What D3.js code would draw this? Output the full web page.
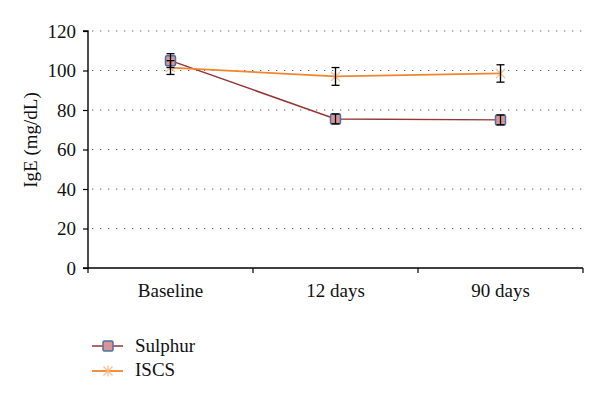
<!DOCTYPE html>
<html><head><meta charset="utf-8">
<script src="https://cdn.jsdelivr.net/npm/d3@7"></script>
<style>body{margin:0;background:#fff}svg{display:block}</style>
</head><body><svg id="c" width="600" height="404"></svg>
<script>
const categories = ["Baseline", "12 days", "90 days"];
const sulphurValues = [105, 75.5, 75];
const sulphurErrors = [3.5, 2.5, 2.5];
const iscsValues = [101.5, 97, 98.5];
const iscsErrors = [3.5, 4.5, 4.4];
const yTicks = [0, 20, 40, 60, 80, 100, 120];

const svg = d3.select("#c");
const L = 88, R = 583, T = 31, B = 268;
const x = d3.scaleBand().domain(categories).range([L, R]);
const y = d3.scaleLinear().domain([0, 120]).range([B, T]);
const font = "'Liberation Serif', 'DejaVu Serif', serif";
const FS = 19;

// grid
svg.append("g").selectAll("line").data(yTicks.filter(d => d > 0)).join("line")
  .attr("x1", L + 4).attr("x2", R).attr("y1", d => y(d)).attr("y2", d => y(d))
  .attr("stroke", "#666").attr("stroke-width", 1.2).attr("stroke-dasharray", "1.3,6.7");

// y axis
const ya = svg.append("g").attr("transform", `translate(${L},0)`)
  .call(d3.axisLeft(y).tickValues(yTicks).tickSize(5).tickPadding(7));
ya.select(".domain").attr("stroke", "#000").attr("stroke-width", 1.4).attr("d", `M-5,${B}H0V${T}H-5`);
ya.selectAll("line").attr("stroke", "#000").attr("stroke-width", 1.2);
ya.selectAll("text").attr("font-family", font).attr("font-size", FS).attr("fill", "#111");

// x axis
const xa = svg.append("g").attr("transform", `translate(0,${B})`);
xa.append("line").attr("x1", L).attr("x2", R).attr("stroke", "#000").attr("stroke-width", 1.4);
const bounds = [L].concat(categories.map(c => x(c) + x.bandwidth()));
xa.selectAll(".tk").data(bounds).join("line").attr("class", "tk")
  .attr("x1", d => d).attr("x2", d => d).attr("y1", 0).attr("y2", 5).attr("stroke", "#000").attr("stroke-width", 1.2);
xa.selectAll("text").data(categories).join("text")
  .attr("x", d => x(d) + x.bandwidth() / 2).attr("y", 29)
  .attr("text-anchor", "middle").attr("font-family", font).attr("font-size", FS).attr("fill", "#111").text(d => d);

// y label
svg.append("text").attr("transform", `translate(37,140) rotate(-90)`)
  .attr("text-anchor", "middle").attr("font-family", font).attr("font-size", FS).attr("fill", "#111").text("IgE (mg/dL)");

const cx = d => x(d) + x.bandwidth() / 2;
const line = d3.line().x(d => cx(d.c)).y(d => y(d.v));

function series(vals) { return categories.map((c, i) => ({ c, v: vals[i] })); }
const sData = series(sulphurValues), iData = series(iscsValues);

// lines
svg.append("path").datum(sData).attr("d", line).attr("fill", "none").attr("stroke", "#943634").attr("stroke-width", 1.5);
svg.append("path").datum(iData).attr("d", line).attr("fill", "none").attr("stroke", "#f0862e").attr("stroke-width", 1.8);

// ISCS markers (star / asterisk)
function star(g, px, py, s) {
  g.append("path").attr("d", `M${px - s},${py - s}L${px + s},${py + s}M${px - s},${py + s}L${px + s},${py - s}M${px},${py - s - 1}L${px},${py + s + 1}`)
    .attr("stroke", "#fac090").attr("stroke-width", 1.3).attr("fill", "none");
}
const mk = svg.append("g");
iData.forEach(d => star(mk, cx(d.c), y(d.v), 4.5));

// Sulphur markers
svg.append("g").selectAll("rect").data(sData).join("rect")
  .attr("x", d => cx(d.c) - 5).attr("y", d => y(d.v) - 5).attr("width", 10).attr("height", 10).attr("rx", 1.5)
  .attr("fill", "#d99594").attr("stroke", "#4f6fa8").attr("stroke-width", 1.5);

// error bars
function errs(vals, es) {
  const g = svg.append("g").attr("stroke", "#000").attr("stroke-width", 1.3);
  categories.forEach((c, i) => {
    const xx = cx(c), hi = y(vals[i] + es[i]), lo = y(vals[i] - es[i]);
    g.append("line").attr("x1", xx).attr("x2", xx).attr("y1", hi).attr("y2", lo);
    g.append("line").attr("x1", xx - 4).attr("x2", xx + 4).attr("y1", hi).attr("y2", hi);
    g.append("line").attr("x1", xx - 4).attr("x2", xx + 4).attr("y1", lo).attr("y2", lo);
  });
}
errs(sulphurValues, sulphurErrors);
errs(iscsValues, iscsErrors);

// legend
const lg = svg.append("g");
lg.append("line").attr("x1", 92).attr("x2", 123).attr("y1", 346).attr("y2", 346).attr("stroke", "#943634").attr("stroke-width", 1.5);
lg.append("rect").attr("x", 103).attr("y", 341).attr("width", 10).attr("height", 10).attr("rx", 1.5)
  .attr("fill", "#d99594").attr("stroke", "#4f6fa8").attr("stroke-width", 1.5);
lg.append("text").attr("x", 135).attr("y", 352).attr("font-family", font).attr("font-size", FS).attr("fill", "#111").text("Sulphur");
lg.append("line").attr("x1", 92).attr("x2", 123).attr("y1", 371).attr("y2", 371).attr("stroke", "#f0862e").attr("stroke-width", 1.8);
star(lg, 108, 371, 4.5);
lg.append("text").attr("x", 135).attr("y", 376).attr("font-family", font).attr("font-size", FS).attr("fill", "#111").text("ISCS");
</script></body></html>
